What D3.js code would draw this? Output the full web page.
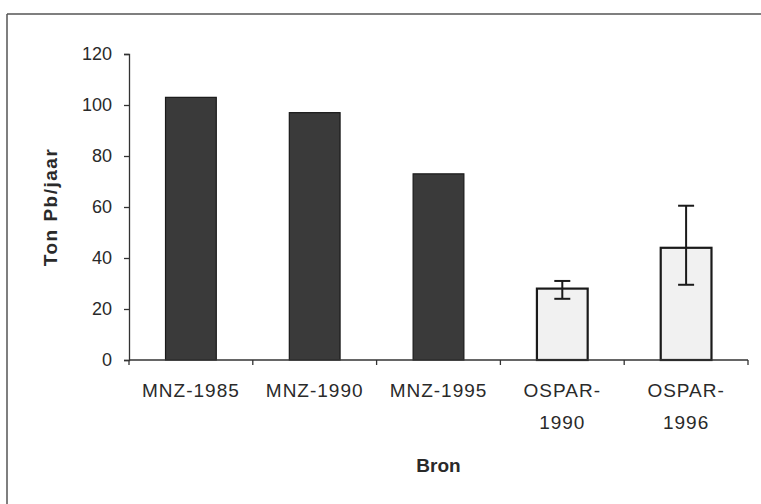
<!DOCTYPE html>
<html>
<head>
<meta charset="utf-8">
<script src="https://cdn.jsdelivr.net/npm/d3@7"></script>
<style>
  body { margin: 0; background: #fff; }
  svg { display: block; font-family: "Liberation Sans", Arial, sans-serif; }
</style>
</head>
<body>
<svg width="761" height="504"></svg>
<script>
// data
var categories = ["MNZ-1985", "MNZ-1990", "MNZ-1995", "OSPAR-1990", "OSPAR-1996"];
var labelLines = [["MNZ-1985"], ["MNZ-1990"], ["MNZ-1995"], ["OSPAR-", "1990"], ["OSPAR-", "1996"]];
var values = [103, 97, 73, 28, 44];
var errLow = [null, null, null, 24, 29.5];
var errHigh = [null, null, null, 31, 60.5];
var isOspar = [false, false, false, true, true];
var yTicks = [0, 20, 40, 60, 80, 100, 120];

var svg = d3.select("svg");

// frame (only top + left edge visible in the scan)
svg.append("line").attr("x1", 7).attr("x2", 761).attr("y1", 14).attr("y2", 14)
    .attr("stroke", "#555").attr("stroke-width", 1.5);
svg.append("line").attr("x1", 7).attr("x2", 7).attr("y1", 14).attr("y2", 504)
    .attr("stroke", "#555").attr("stroke-width", 1.5);

var x = d3.scaleBand()
    .domain(categories)
    .range([129, 748])
    .paddingInner(0.59)
    .paddingOuter(0.295);

var y = d3.scaleLinear()
    .domain([0, 120])
    .range([360, 54]);

var data = categories.map(function(c, i) {
  return { cat: c, value: values[i], lo: errLow[i], hi: errHigh[i], light: isOspar[i], lines: labelLines[i] };
});

// y axis
var yAxis = svg.append("g")
    .attr("transform", "translate(129,0)")
    .call(d3.axisLeft(y).tickValues(yTicks).tickSize(5).tickPadding(12));
yAxis.select(".domain").attr("stroke", "#333").attr("stroke-width", 1.3);
yAxis.selectAll(".tick line").attr("stroke", "#333").attr("stroke-width", 1.3);
yAxis.selectAll(".tick text")
    .attr("font-size", 18)
    .attr("font-family", "Liberation Sans, Arial, sans-serif")
    .attr("fill", "#2a2a2a");

// bars
svg.append("g").selectAll("rect")
  .data(data)
  .enter().append("rect")
    .attr("x", function(d) { return x(d.cat); })
    .attr("y", function(d) { return y(d.value); })
    .attr("width", x.bandwidth())
    .attr("height", function(d) { return y(0) - y(d.value); })
    .attr("fill", function(d) { return d.light ? "#f1f1f1" : "#3a3a3a"; })
    .attr("stroke", "#1a1a1a")
    .attr("stroke-width", function(d) { return d.light ? 2.2 : 1.2; });

// error bars
var err = svg.append("g").selectAll("g")
  .data(data.filter(function(d) { return d.lo != null; }))
  .enter().append("g")
    .attr("stroke", "#1a1a1a")
    .attr("stroke-width", 2);
err.append("line")
    .attr("x1", function(d) { return x(d.cat) + x.bandwidth() / 2; })
    .attr("x2", function(d) { return x(d.cat) + x.bandwidth() / 2; })
    .attr("y1", function(d) { return y(d.lo); })
    .attr("y2", function(d) { return y(d.hi); });
err.append("line")
    .attr("x1", function(d) { return x(d.cat) + x.bandwidth() / 2 - 8; })
    .attr("x2", function(d) { return x(d.cat) + x.bandwidth() / 2 + 8; })
    .attr("y1", function(d) { return y(d.hi); })
    .attr("y2", function(d) { return y(d.hi); });
err.append("line")
    .attr("x1", function(d) { return x(d.cat) + x.bandwidth() / 2 - 8; })
    .attr("x2", function(d) { return x(d.cat) + x.bandwidth() / 2 + 8; })
    .attr("y1", function(d) { return y(d.lo); })
    .attr("y2", function(d) { return y(d.lo); });

// x axis line + boundary ticks
var x0 = x.range()[0], x1 = x.range()[1];
svg.append("line").attr("x1", x0).attr("x2", x1).attr("y1", y(0)).attr("y2", y(0))
    .attr("stroke", "#333").attr("stroke-width", 1.3);
svg.append("g").selectAll("line")
  .data(d3.range(categories.length + 1))
  .enter().append("line")
    .attr("x1", function(i) { return x0 + i * x.step(); })
    .attr("x2", function(i) { return x0 + i * x.step(); })
    .attr("y1", y(0))
    .attr("y2", y(0) + 5)
    .attr("stroke", "#333").attr("stroke-width", 1.3);

// category labels
var lab = svg.append("g").selectAll("text")
  .data(data)
  .enter().append("text")
    .attr("x", function(d) { return x(d.cat) + x.bandwidth() / 2; })
    .attr("y", 397)
    .attr("text-anchor", "middle")
    .attr("font-size", 19)
    .attr("letter-spacing", 1)
    .attr("fill", "#2a2a2a");
lab.selectAll("tspan")
  .data(function(d) { return d.lines; })
  .enter().append("tspan")
    .attr("x", function() { var p = this.parentNode.__data__; return x(p.cat) + x.bandwidth() / 2; })
    .attr("dy", function(d, i) { return i === 0 ? 0 : 32; })
    .text(function(d) { return d; });

// axis titles
svg.append("text")
    .attr("x", (x0 + x1) / 2)
    .attr("y", 472)
    .attr("text-anchor", "middle")
    .attr("font-size", 19)
    .attr("font-weight", "bold")
    .attr("fill", "#2a2a2a")
    .text("Bron");

svg.append("text")
    .attr("transform", "translate(57," + (y(60)) + ") rotate(-90)")
    .attr("text-anchor", "middle")
    .attr("font-size", 19)
    .attr("letter-spacing", 1.5)
    .attr("font-weight", "bold")
    .attr("fill", "#2a2a2a")
    .text("Ton Pb/jaar");
</script>
</body>
</html>
